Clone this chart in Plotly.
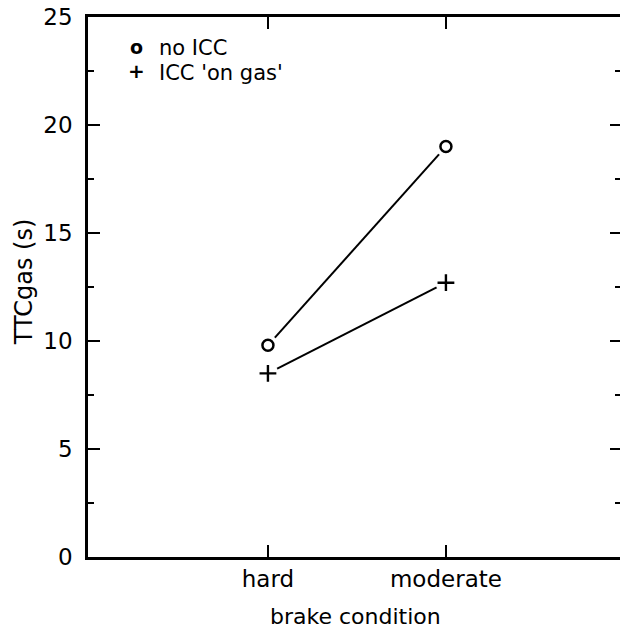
import plotly.graph_objects as go

categories = ["hard", "moderate"]
cat_pos = [1, 2]
no_icc = [9.8, 19.0]
icc_on_gas = [8.5, 12.7]
series_names = ["no ICC", "ICC 'on gas'"]
y_ticks = [0, 5, 10, 15, 20, 25]

FONT = "DejaVu Sans"
fig = go.Figure()

# connecting lines
for vals in (no_icc, icc_on_gas):
    fig.add_trace(go.Scatter(x=cat_pos, y=vals, mode="lines",
                             line=dict(color="black", width=2),
                             showlegend=False, hoverinfo="skip"))
# white halos to leave a gap between line and marker
for vals in (no_icc, icc_on_gas):
    fig.add_trace(go.Scatter(x=cat_pos, y=vals, mode="markers",
                             marker=dict(symbol="circle", size=21, color="white",
                                         line=dict(width=0)),
                             showlegend=False, hoverinfo="skip"))
fig.add_trace(go.Scatter(x=cat_pos, y=no_icc, mode="markers", name=series_names[0],
                         marker=dict(symbol="circle-open", size=11, color="black",
                                     line=dict(width=2.5, color="black")),
                         showlegend=False))
fig.add_trace(go.Scatter(x=cat_pos, y=icc_on_gas, mode="markers", name=series_names[1],
                         marker=dict(symbol="cross-thin", size=12, color="black",
                                     line=dict(width=2.4, color="black")),
                         showlegend=False))
# dummy trace to create right-hand axis ticks
fig.add_trace(go.Scatter(x=[None], y=[None], yaxis="y2", showlegend=False,
                         hoverinfo="skip"))

fig.update_layout(
    width=620, height=632,
    margin=dict(l=88, r=0, t=17, b=75),
    paper_bgcolor="white", plot_bgcolor="white",
    font=dict(family=FONT, size=23, color="black"),
    xaxis=dict(range=[-0.011, 2.978], tickvals=cat_pos, ticktext=categories,
               ticks="inside", ticklen=12, tickwidth=2, tickcolor="black",
               showline=True, linecolor="black", linewidth=2.5, mirror="ticks",
               showgrid=False, zeroline=False, ticklabelstandoff=0,
               tickfont=dict(family=FONT, size=23)),
    yaxis=dict(range=[0, 25], tickvals=y_ticks,
               ticks="inside", ticklen=12, tickwidth=2, tickcolor="black",
               minor=dict(dtick=2.5, tick0=0, ticks="inside", ticklen=6,
                          tickwidth=2, tickcolor="black", showgrid=False),
               showline=True, linecolor="black", linewidth=2.5,
               showgrid=False, zeroline=False, ticklabelstandoff=8,
               tickfont=dict(family=FONT, size=23)),
    yaxis2=dict(range=[0, 25], overlaying="y", side="right", anchor="x",
                tickvals=y_ticks, showticklabels=False,
                ticks="inside", ticklen=10, tickwidth=2, tickcolor="black",
                minor=dict(dtick=2.5, tick0=0, ticks="inside", ticklen=5,
                           tickwidth=2, tickcolor="black", showgrid=False),
                showline=False, showgrid=False, zeroline=False),
)

annotations = [
    dict(text="brake condition", x=0.502, y=-0.111, xref="paper", yref="paper",
         xanchor="center", yanchor="middle", showarrow=False,
         font=dict(family=FONT, size=22)),
    dict(text="TTCgas (s)", x=-0.120, y=0.509, xref="paper", yref="paper",
         xanchor="center", yanchor="middle", textangle=-90, showarrow=False,
         font=dict(family=FONT, size=24)),
    dict(text="<b>o</b>", x=(136 - 88) / 532, y=(557 - 47) / 540, xref="paper", yref="paper",
         xanchor="center", yanchor="middle", showarrow=False,
         font=dict(family=FONT, size=19)),
    dict(text="<b>+</b>", x=(136 - 88) / 532, y=(557 - 71) / 540, xref="paper", yref="paper",
         xanchor="center", yanchor="middle", showarrow=False,
         font=dict(family=FONT, size=20)),
    dict(text=series_names[0], x=(157 - 88) / 532, y=(557 - 48) / 540, xref="paper", yref="paper",
         xanchor="left", yanchor="middle", showarrow=False,
         font=dict(family=FONT, size=21)),
    dict(text=series_names[1], x=(157 - 88) / 532, y=(557 - 73) / 540, xref="paper", yref="paper",
         xanchor="left", yanchor="middle", showarrow=False,
         font=dict(family=FONT, size=21)),
]
fig.update_layout(annotations=annotations)

fig.write_html("out.html")
